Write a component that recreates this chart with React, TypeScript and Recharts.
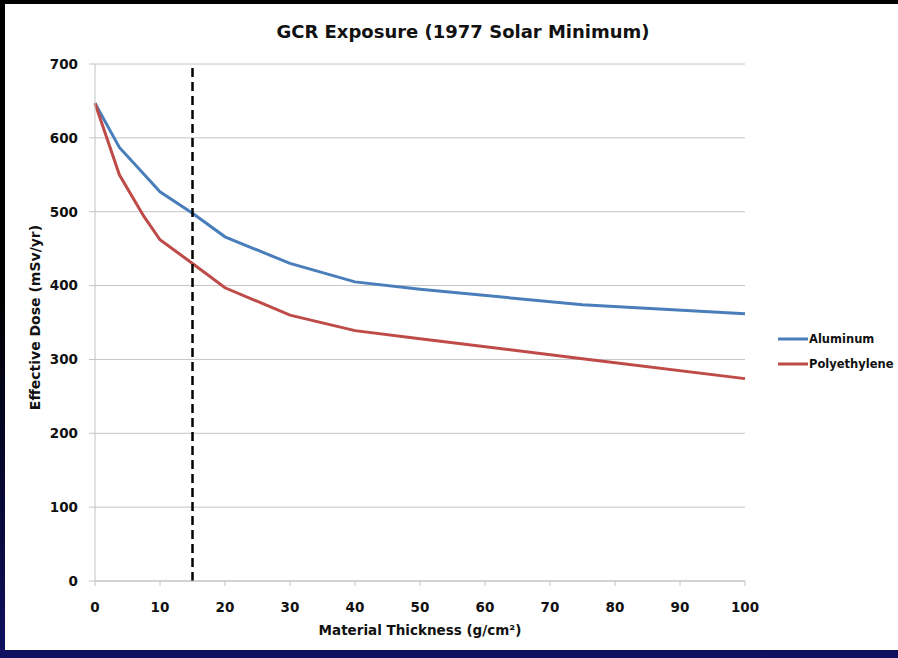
import React from 'react';
import {
  LineChart,
  Line,
  XAxis,
  YAxis,
  CartesianGrid,
  ReferenceLine,
  Legend,
  Label,
} from 'recharts';

const thickness = [0, 3.75, 7.5, 10, 15, 20, 30, 40, 50, 75, 100];
const aluminum = [647, 587, 551, 527, 498, 466, 430, 405, 395, 374, 362];
const polyethylene = [647, 550, 494, 462, 430, 397, 360, 339, 328, 301, 274];
const xTicks = [0, 10, 20, 30, 40, 50, 60, 70, 80, 90, 100];
const yTicks = [0, 100, 200, 300, 400, 500, 600, 700];
const markerThickness = 15;

const data = thickness.map((t, i) => ({
  t,
  Aluminum: aluminum[i],
  Polyethylene: polyethylene[i],
}));

const FONT = '"DejaVu Sans", sans-serif';

const renderLegend = (props: any) => {
  const { payload } = props;
  return (
    <div>
      {(payload || []).map((e: any) => (
        <div
          key={e.value}
          style={{ display: 'flex', alignItems: 'center', height: 25 }}
        >
          <svg width={30} height={10} style={{ display: 'block' }}>
            <line x1={0} y1={5} x2={30} y2={5} stroke={e.color} strokeWidth={3} />
          </svg>
          <span
            style={{
              marginLeft: 1,
              fontFamily: FONT,
              fontWeight: 'bold',
              fontSize: 11.5,
              color: '#111',
              whiteSpace: 'nowrap',
            }}
          >
            {e.value}
          </span>
        </div>
      ))}
    </div>
  );
};

export default function App() {
  return (
    <div
      style={{
        position: 'fixed',
        left: 0,
        top: 0,
        width: 898,
        height: 658,
        background: 'linear-gradient(to bottom, #000 0%, #000 45%, #0f1060 100%)',
        overflow: 'hidden',
      }}
    >
      <div
        style={{
          position: 'absolute',
          left: 5,
          top: 4,
          width: 893,
          height: 646,
          background: '#fff',
        }}
      />
      <div
        style={{
          position: 'absolute',
          left: 0,
          top: 22,
          width: 926,
          textAlign: 'center',
          fontFamily: FONT,
          fontWeight: 'bold',
          fontSize: 18,
          lineHeight: '20px',
          color: '#111',
        }}
      >
        GCR Exposure (1977 Solar Minimum)
      </div>
      <div style={{ position: 'absolute', left: 0, top: 0 }}>
        <LineChart
          width={898}
          height={658}
          data={data}
          margin={{ top: 64, right: 153, bottom: 0, left: 0 }}
        >
          <CartesianGrid vertical={false} stroke="#c4c4c4" strokeWidth={1} />
          <XAxis
            dataKey="t"
            type="number"
            domain={[0, 100]}
            ticks={xTicks}
            height={77}
            stroke="#c4c4c4"
            tickSize={5}
            tickMargin={16}
            tick={{ fill: '#111', fontFamily: FONT, fontWeight: 'bold', fontSize: 13.5 }}
            interval={0}
          >
            <Label
              value="Material Thickness (g/cm²)"
              position="center"
              dy={11}
              style={{ fill: '#111', fontFamily: FONT, fontWeight: 'bold', fontSize: 13.5 }}
            />
          </XAxis>
          <YAxis
            type="number"
            domain={[0, 700]}
            ticks={yTicks}
            width={95}
            stroke="#c4c4c4"
            tickSize={6}
            tickMargin={11}
            tick={{ fill: '#111', fontFamily: FONT, fontWeight: 'bold', fontSize: 13.5 }}
            interval={0}
          >
            <Label
              value="Effective Dose (mSv/yr)"
              angle={-90}
              position="center"
              dx={-12.5}
              dy={-5}
              style={{ fill: '#111', fontFamily: FONT, fontWeight: 'bold', fontSize: 14, textAnchor: 'middle' }}
            />
          </YAxis>
          <Line
            type="linear"
            dataKey="Aluminum"
            stroke="#4a7ebb"
            strokeWidth={3}
            dot={false}
            isAnimationActive={false}
          />
          <Line
            type="linear"
            dataKey="Polyethylene"
            stroke="#be4b48"
            strokeWidth={3}
            dot={false}
            isAnimationActive={false}
          />
          <ReferenceLine
            x={markerThickness}
            stroke="#000"
            strokeWidth={2.5}
            strokeDasharray="9 5"
          />
          <Legend
            layout="vertical"
            align="center"
            verticalAlign="middle"
            content={renderLegend}
            wrapperStyle={{ left: 778, top: 326, width: 120 }}
          />
        </LineChart>
      </div>
    </div>
  );
}
